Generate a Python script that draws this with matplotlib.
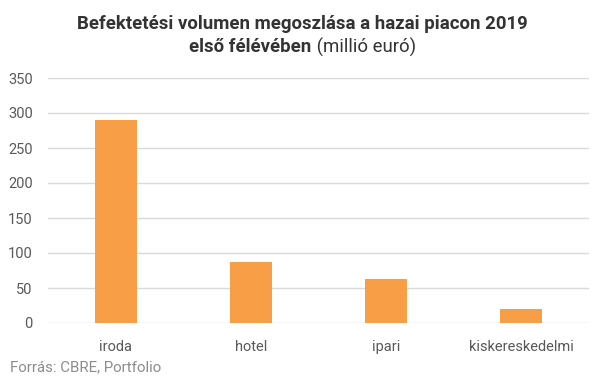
import matplotlib
matplotlib.use("Agg")
import matplotlib.pyplot as plt

categories = ["iroda", "hotel", "ipari", "kiskereskedelmi"]
values = [290, 87, 63, 20]
yticks = [0, 50, 100, 150, 200, 250, 300, 350]

plt.rcParams['font.family'] = ['Roboto', 'DejaVu Sans']

fig = plt.figure(figsize=(6.05, 3.79), dpi=100)
ax = fig.add_axes([48 / 605, 56 / 379, 541 / 605, 245 / 379])

ax.bar(range(len(categories)), values, width=0.31, color="#f79e47", zorder=3)
ax.set_xlim(-0.5, len(categories) - 0.5)
ax.set_ylim(0, 350)
ax.set_yticks(yticks)
ax.set_xticks(range(len(categories)))
ax.set_xticklabels(categories)
ax.grid(axis="y", color="#d9d9d9", linewidth=1, zorder=0)
for s in ax.spines.values():
    s.set_visible(False)
ax.tick_params(axis="both", length=0, labelsize=10.5, colors="#595959")
ax.tick_params(axis="y", pad=11)
ax.tick_params(axis="x", pad=12)

# title, first line bold, second line half bold half regular
fig.text(0.5, 1 - 24 / 379, "Befektetési volumen megoszlása a hazai piacon 2019",
         ha="center", va="center", fontsize=13.4, fontweight="bold", color="#333333")
r = fig.canvas.get_renderer()
t1 = fig.text(0, 1 - 47 / 379, "első félévében", ha="left", va="center",
              fontsize=13.4, fontweight="bold", color="#333333")
t2 = fig.text(0, 1 - 47 / 379, " (millió euró)", ha="left", va="center",
              fontsize=13.4, color="#333333")
w1 = t1.get_window_extent(r).width
w2 = t2.get_window_extent(r).width
x0 = (605 - w1 - w2) / 2
t1.set_x(x0 / 605)
t2.set_x((x0 + w1) / 605)

fig.text(10 / 605, 1 - 367 / 379, "Forrás: CBRE, Portfolio", ha="left", va="center",
         fontsize=10.8, color="#8c8c8c")

fig.savefig("out.png", dpi=100)
